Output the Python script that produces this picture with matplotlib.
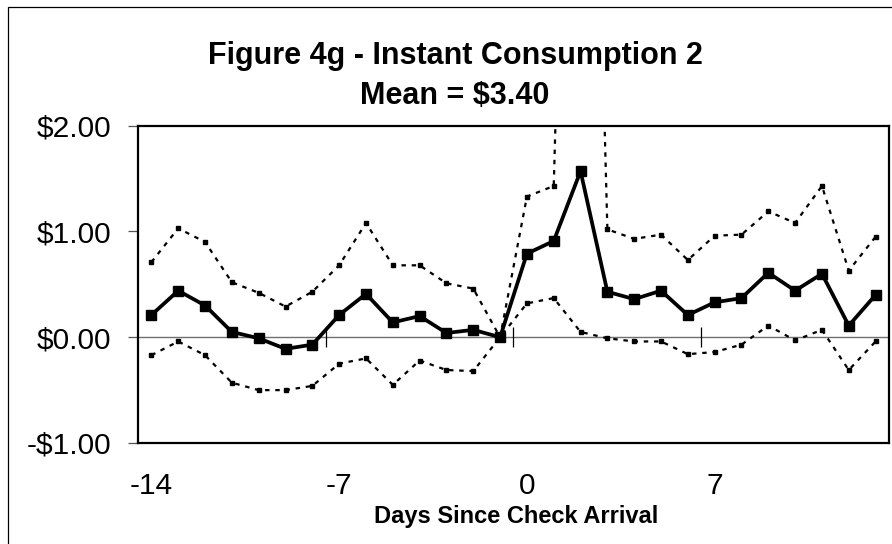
import matplotlib
matplotlib.use("Agg")
import matplotlib.pyplot as plt
from matplotlib.patches import Rectangle
from matplotlib.ticker import FuncFormatter

plt.rcParams['font.family'] = ['Liberation Sans', 'DejaVu Sans']

days = list(range(-14, 14))
mean = [0.21, 0.44, 0.30, 0.05, -0.01, -0.11, -0.07, 0.21, 0.41, 0.14, 0.20, 0.04, 0.07, 0.00,
        0.79, 0.91, 1.57, 0.43, 0.36, 0.44, 0.21, 0.33, 0.37, 0.61, 0.44, 0.60, 0.11, 0.40]
upper = [0.71, 1.03, 0.90, 0.52, 0.42, 0.29, 0.43, 0.68, 1.08, 0.68, 0.68, 0.51, 0.46, 0.00,
         1.33, 1.43, 10.5, 1.02, 0.93, 0.97, 0.73, 0.96, 0.97, 1.19, 1.08, 1.43, 0.63, 0.95]
lower = [-0.17, -0.04, -0.17, -0.43, -0.50, -0.50, -0.46, -0.25, -0.20, -0.45, -0.22, -0.31, -0.32, 0.00,
         0.32, 0.37, 0.05, -0.01, -0.04, -0.04, -0.16, -0.14, -0.07, 0.11, -0.03, 0.07, -0.31, -0.04]
xtick_days = [-14, -7, 0, 7]
yticks = [-1, 0, 1, 2]
title1 = "Figure 4g - Instant Consumption 2"
title2 = "Mean = $3.40"
xlabel = "Days Since Check Arrival"

W, H = 892, 544
fig = plt.figure(figsize=(W / 100, H / 100), dpi=100)
ax = fig.add_axes([138 / W, 1 - 443 / H, (889 - 138) / W, (443 - 125.7) / H])

# outer chart border
fig.patches.append(Rectangle((8 / W, -0.2), 1.5, 1.2 - 7 / H, transform=fig.transFigure,
                             fill=False, edgecolor='black', linewidth=0.9, clip_on=False))

ax.set_xlim(days[0] - 0.5, days[-1] + 0.5)
ax.set_ylim(yticks[0], yticks[-1])

# zero line and crossing category tick marks
ax.axhline(0, color='#707070', linewidth=1.0, zorder=1)
bounds = [d - 0.5 for d in xtick_days[1:]]
ax.plot(bounds, [0] * len(bounds), linestyle='none', marker='|', markersize=14,
        markeredgewidth=0.9, color='black', zorder=1)

ci_style = dict(color='black', linewidth=1.6, linestyle=(0, (2, 2.6)), marker='s',
                markersize=2.5, zorder=2)
ax.plot(days, upper, **ci_style)
ax.plot(days, lower, **ci_style)
ax.plot(days, mean, color='black', linewidth=2.7, marker='s', markersize=7.5, zorder=3)

for s in ax.spines.values():
    s.set_linewidth(1.6)
    s.set_color('black')

ax.set_yticks(yticks)
ax.yaxis.set_major_formatter(FuncFormatter(lambda v, p: ("-$%.2f" % abs(v)) if v < 0 else ("$%.2f" % v)))
ax.tick_params(axis='y', direction='out', length=7, width=0.9, color='#555555', pad=12, labelsize=21.5)
ax.set_xticks(xtick_days)
ax.set_xticklabels([str(d) for d in xtick_days])
ax.tick_params(axis='x', length=0, pad=21, labelsize=21.5)

fig.text(455 / W, 1 - 64 / H, title1, ha='center', va='baseline', fontsize=22, fontweight='bold')
fig.text(455 / W, 1 - 104 / H, title2, ha='center', va='baseline', fontsize=22, fontweight='bold')
fig.text(516 / W, 1 - 523 / H, xlabel, ha='center', va='baseline', fontsize=17, fontweight='bold')

fig.savefig("out.png", dpi=100)
